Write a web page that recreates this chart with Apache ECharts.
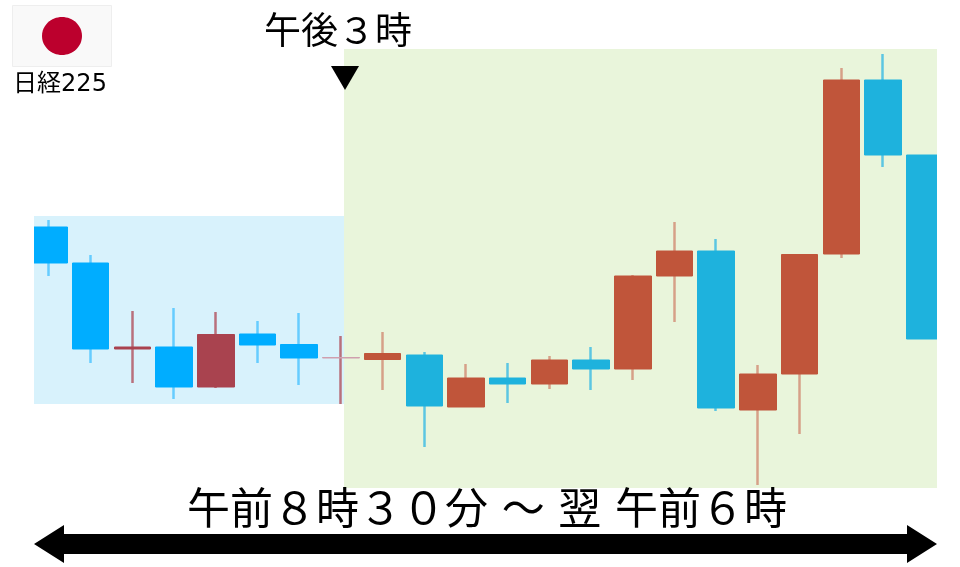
<!DOCTYPE html>
<html><head><meta charset="utf-8">
<style>html,body{margin:0;padding:0;background:#fff}#c{width:960px;height:567px}</style>
<script src="https://cdn.jsdelivr.net/npm/echarts@6/dist/echarts.min.js"></script>
</head><body><div id="c"></div>
<script>
const dayIdx   = [0,1,2,3,4,5,6,7];
const dayOpen  = [340,304,218,220,180,233,222.5,209];
const dayClose = [304,218,220,180,232.5,222,209,209.5];
const dayLow   = [291,204,184,168,179,204,182,163];
const dayHigh  = [347,312,256,259,255,246,254,231];

const nightIdx   = [8,9,10,11,12,13,14,15,16,17,18,19,20,21];
const nightOpen  = [207.5,212,160,189,183,207,198,291,316,157,193,313,487,412];
const nightClose = [213.5,161,189,183,207,198,291,316,159,193,312.5,487,412,228];
const nightLow   = [177,120,160,164,178,177,187,245,156,82,133,309,400,228];
const nightHigh  = [235,215,203,204,211,220,292,345,328,202,313,499,513,412];

const flagLabel = '日経225';
const topLabel = '午後３時';
const spanLabel = '午前８時３０分 ～ 翌 午前６時';
const font = '"DejaVu Sans","Noto Sans CJK JP",sans-serif';

const dims = ['x','open','close','low','high'];
const enc = {x:0,y:[1,2,3,4]};
const wickRows = (x,o,c,l,h) => x.map((v,i)=>[v,o[i],c[i],l[i],h[i]]);
const bodyRows = (x,o,c) => x.map((v,i)=>[v,o[i],c[i],Math.min(o[i],c[i]),Math.max(o[i],c[i])]);
const wick = (name,rows,up,down,z,extra) => Object.assign({type:'candlestick',name:name+' wick',barWidth:1,z,
  dimensions:dims,encode:enc,data:rows,
  itemStyle:{color:up,color0:down,borderColor:up,borderColor0:down,borderWidth:2.5}},extra||{});
const body = (name,rows,up,down,z) => ({type:'candlestick',name:name+' body',barWidth:37,z,
  dimensions:dims,encode:enc,data:rows,
  itemStyle:{color:up,color0:down,borderColor:up,borderColor0:down,borderWidth:1}});

const dayBodies = bodyRows(dayIdx,dayOpen,dayClose).map((r,i)=> i===7
  ? {value:r,itemStyle:{color:'#cf9fae',borderColor:'#cf9fae'}} : r);

const chart = echarts.init(document.getElementById('c'));
const deco = [
  {type:'rect',shape:{x:0,y:200,width:34,height:100},style:{fill:'#fff'}},
  {type:'rect',shape:{x:937,y:140,width:23,height:220},style:{fill:'#fff'}},
  {type:'rect',shape:{x:12.5,y:5.5,width:99,height:61},style:{fill:'#f9f9f9',stroke:'#eeeeee',lineWidth:1}},
  {type:'ellipse',shape:{cx:62,cy:36,rx:20,ry:19},style:{fill:'#bc002d'}},
  {type:'text',x:60,y:85,style:{text:flagLabel,font:'24px '+font,fill:'#000',align:'center',verticalAlign:'middle'}},
  {type:'text',x:338,y:34,style:{text:topLabel,font:'37px '+font,fill:'#000',align:'center',verticalAlign:'middle'}},
  {type:'polygon',shape:{points:[[331,66],[359,66],[345,90]]},style:{fill:'#000'}},
  {type:'text',x:487,y:513,style:{text:spanLabel,font:'43px '+font,fill:'#000',align:'center',verticalAlign:'middle'}},
  {type:'polygon',shape:{points:[[34,544],[64,525],[64,534],[907,534],[907,525],[937,544],[907,563],[907,554],[64,554],[64,563]]},style:{fill:'#000'}}
].map(g=>Object.assign(g,{z:100}));

chart.setOption({
  animation:false,
  grid:{left:34,right:23,top:0,bottom:0},
  xAxis:{type:'value',min:-0.36,max:21.295,show:false},
  yAxis:{type:'value',min:0,max:567,show:false},
  series:[
    wick('day',wickRows(dayIdx,dayOpen,dayClose,dayLow,dayHigh),'#b9707c','#66ccff',3,{
      markArea:{silent:true,itemStyle:{color:'#d8f2fc'},
        data:[[{xAxis:-0.36,yAxis:351},{xAxis:7.074,yAxis:163}]]}}),
    wick('night',wickRows(nightIdx,nightOpen,nightClose,nightLow,nightHigh),'#d6a088','#5cc6e2',3,{
      markArea:{silent:true,itemStyle:{color:'#e9f5db'},
        data:[[{xAxis:7.074,yAxis:518},{xAxis:21.295,yAxis:79}]]}}),
    body('day',dayBodies,'#a9434f','#00adff',4),
    body('night',bodyRows(nightIdx,nightOpen,nightClose),'#c0553a','#1eb2dd',4)
  ],
  graphic:deco
});
</script></body></html>
